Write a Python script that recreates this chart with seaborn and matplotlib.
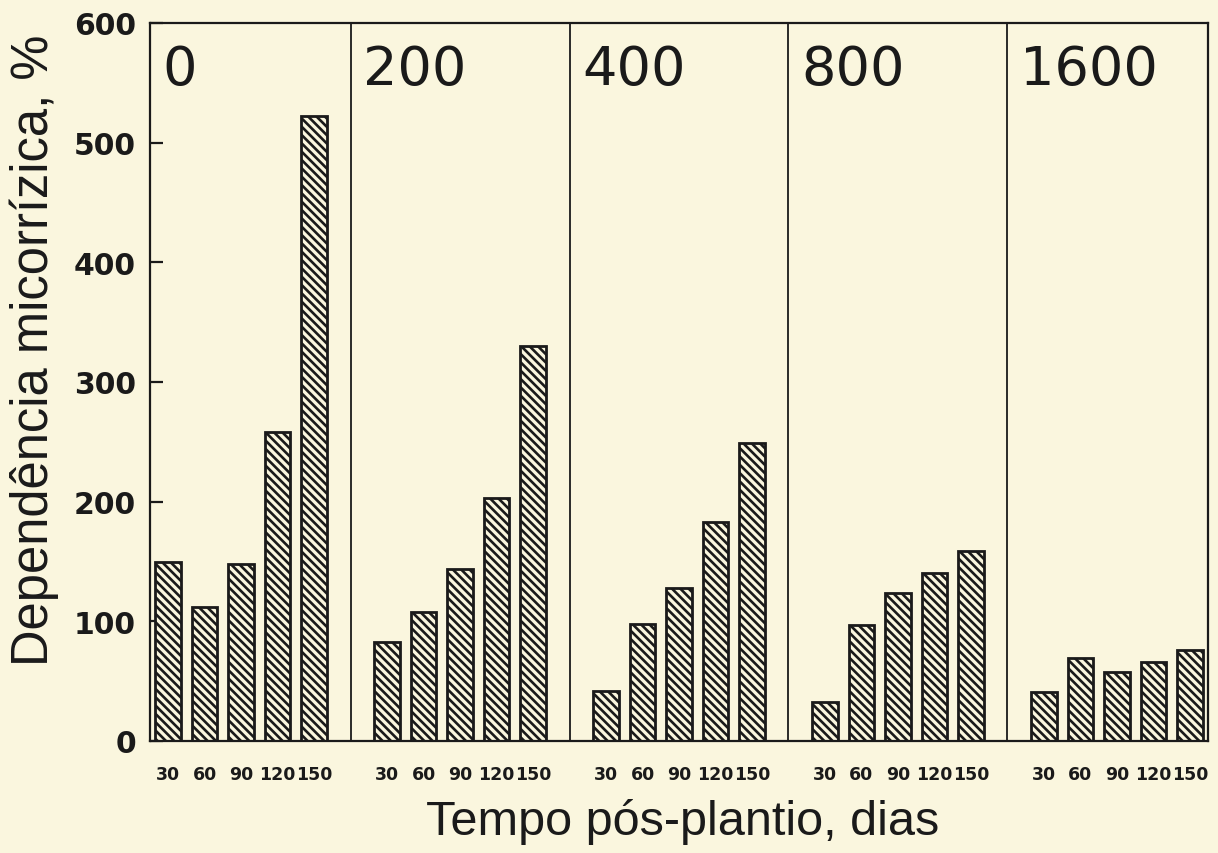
import matplotlib
matplotlib.use("Agg")
import matplotlib.pyplot as plt
import pandas as pd
import seaborn as sns

# Phosphorus doses (panels) and sampling days (bars within each panel)
doses = ["0", "200", "400", "800", "1600"]
days = ["30", "60", "90", "120", "150"]

# Mycorrhizal dependency (%) per dose, one value per sampling day
dep_0 = [150, 112, 148, 258, 522]
dep_200 = [83, 108, 144, 203, 330]
dep_400 = [42, 98, 128, 183, 249]
dep_800 = [33, 97, 124, 140, 159]
dep_1600 = [41, 69, 58, 66, 76]

y_ticks = [0, 100, 200, 300, 400, 500, 600]

PAPER = "#faf6de"
INK = "#1a1a1a"

sns.set_style("ticks")
plt.rcParams["hatch.linewidth"] = 1.9
plt.rcParams["font.family"] = ["Liberation Sans", "DejaVu Sans"]
plt.rcParams["text.color"] = INK
plt.rcParams["axes.labelcolor"] = INK

series = [dep_0, dep_200, dep_400, dep_800, dep_1600]
slot = len(days) + 1  # one empty slot between panels

rows = []
for p, (dose, vals) in enumerate(zip(doses, series)):
    for i, (day, v) in enumerate(zip(days, vals)):
        rows.append({"dose": dose, "day": day, "pos": p * slot + i, "value": v})
df = pd.DataFrame(rows)

fig = plt.figure(figsize=(12.18, 8.54), dpi=100, facecolor=PAPER)
ax = fig.add_axes([150 / 1218, 1 - 742 / 854, 1058 / 1218, 718 / 854])
ax.set_facecolor(PAPER)

sns.barplot(
    data=df, x="pos", y="value", native_scale=True, width=0.7,
    color=PAPER, saturation=1, edgecolor=INK, linewidth=2.0,
    hatch="\\\\\\\\", errorbar=None, ax=ax,
)

n_panels = len(doses)
ax.set_xlim(-0.5, n_panels * slot - 1.5)
ax.set_ylim(y_ticks[0], y_ticks[-1])
ax.set_yticks(y_ticks)
ax.set_xticks(df["pos"])
ax.set_xticklabels(df["day"])

# Panel separators and dose labels
for p, dose in enumerate(doses):
    left = -0.5 if p == 0 else p * slot - 1
    if p > 0:
        ax.axvline(left, color=INK, lw=1.3, zorder=3)
    ax.text(left + 0.35, 583, dose, fontsize=39, family="DejaVu Sans",
            ha="left", va="top", color=INK)

for s in ax.spines.values():
    s.set_visible(True)
    s.set_color(INK)
    s.set_linewidth(1.6)

ax.tick_params(axis="y", direction="in", length=9, width=1.6, pad=10,
               labelsize=21.5, colors=INK)
ax.tick_params(axis="x", length=0, pad=17, labelsize=12.5, colors=INK)
for lbl in ax.get_yticklabels() + ax.get_xticklabels():
    lbl.set_fontfamily("DejaVu Sans")
    lbl.set_fontweight("bold")

ax.set_xlabel("Tempo pós-plantio, dias", fontsize=35)
ax.xaxis.set_label_coords(0.503, -0.079)
ax.set_ylabel("Dependência micorrízica, %", fontsize=36.5)
ax.yaxis.set_label_coords(-0.086, 0.546)

fig.savefig("out.png", dpi=100, facecolor=PAPER)
